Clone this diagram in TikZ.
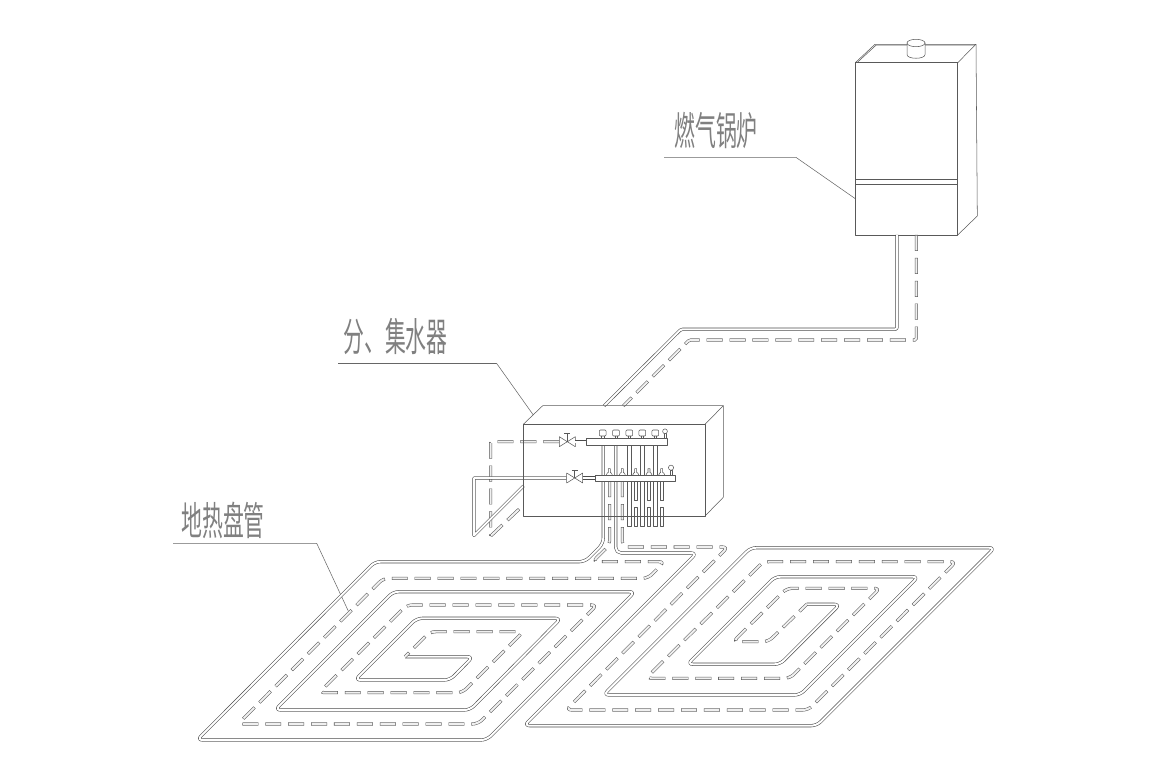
\documentclass[tikz,border=0pt]{standalone}
\usepackage{fontspec}
\newfontfamily\cjk[FakeStretch=0.53]{Noto Sans CJK SC}
\begin{document}
\begin{tikzpicture}[
        x=0.02cm, y=-0.02cm,
        edge/.style={draw=black!65, line width=0.3pt, line join=round},
        face/.style={edge, fill=white},
        leader/.style={edge, draw=black!60},
        pipe/.style={draw=black!70, line width=0.32pt, double=white, double distance=0.04cm, rounded corners=0.11cm, line join=round},
        pipedash/.style={draw=black!65, line width=1.75pt, dash pattern=on 9.07pt off 3.97pt, rounded corners=0.11cm,
            postaction={draw=black!6, line width=1.15pt, dash pattern=on 8.5pt off 4.54pt, dash phase=12.75pt}},
        tag/.style={inner sep=0pt, text=black!50, font=\cjk\fontsize{22.4pt}{24pt}\selectfont}
    ]
        \useasboundingbox (0,0) rectangle (1152,759);

        % labels and leaders
        \node[tag] (boilerlabel) at (716,131) {燃气锅炉};
        \node[tag] (manifoldlabel) at (395.5,337) {分、集水器};
        \node[tag] (coillabel) at (223,520) {地热盘管};
        \coordinate (boilerstart) at (664,157.4);
        \coordinate (boilerbend) at (796,157.4);
        \coordinate (boilertip) at (855.3,198.7);
        \coordinate (manifoldstart) at (338,363.5);
        \coordinate (manifoldbend) at (496.7,363.5);
        \coordinate (manifoldtip) at (533.3,415);
        \coordinate (coilstart) at (173,543.3);
        \coordinate (coilbend) at (316.7,543.3);
        \coordinate (coiltip) at (348.3,611);
        \draw[leader] (boilerstart) -- (boilerbend) -- (boilertip);
        \draw[leader] (manifoldstart) -- (manifoldbend) -- (manifoldtip);
        \draw[leader] (coilstart) -- (coilbend) -- (coiltip);

        % boiler
        \draw[edge] (855.3,62.7) -- (875,44.3) -- (976,44.3) -- (957.7,62.7);
        \draw[edge] (857,62.7) -- (876,45.2) -- (975,45.2);
        \draw[edge] (976,44.3) -- (977.3,216) -- (957.7,235);
        \draw[edge] (855.3,62.7) rectangle (957.7,235);
        \draw[edge] (855.3,62) -- (957.7,62);
        \draw[edge] (855.3,179.3) -- (957.7,179.3);
        \draw[edge] (855.3,184.3) -- (957.7,184.3);
        \draw[face] (907,43) -- (907,54.6) .. controls (907,59.5) and (925,59.5) .. (925,54.6) -- (925,43) -- cycle;
        \draw[face] (916,43) ellipse [x radius=9, y radius=3.7];

        % supply and return to boiler
        \draw[pipe, rounded corners=0.03cm] (897,235) -- (897,329.3) -- (681,329.3) -- (604,406);
        \draw[pipedash, rounded corners=0.03cm] (916.3,235) -- (916.3,340) -- (689.3,340) -- (623.3,406);

        % upper feed with valve, lower feed with valve
        \draw[pipedash, rounded corners=0.03cm] (559.3,441.7) -- (490.7,441.7) -- (490.7,536) -- (524,504.5);
        \draw[pipe, rounded corners=0pt] (566.7,478) -- (474,478) -- (474,535.5) -- (523.5,486);

        % left coil
        \draw[pipe] (603.3,445) -- (603.3,543.4) -- (585,561.7) -- (375,561.7) -- (197,740) -- (486.7,740)
            -- (635,591.7) -- (393.3,591.7) -- (275,710) -- (470,710) -- (561,618.3) -- (416.7,618.3)
            -- (355,680) -- (450,680) -- (473,656.7) -- (405,656.7);
        \draw[pipedash] (609.7,481.3) -- (609.7,545) -- (592.5,561.7) -- (664.5,561.7) -- (648,578.3)
            -- (383.3,578.3) -- (238,724) -- (478,724) -- (597,605) -- (406.7,605) -- (319,692.7)
            -- (462.3,692.7) -- (523.3,631.7) -- (430,631.7) -- (405,656.7);

        % right coil
        \draw[pipe] (615.7,445) -- (615.7,553) -- (696.7,553) -- (524,725.7) -- (816.7,725.7) -- (994.7,547.7)
            -- (750.7,547.7) -- (603.4,695) -- (800,695) -- (918.3,576.7) -- (775,576.7) -- (687.4,664.3)
            -- (780,664.3) -- (840,604.3) -- (806.7,604.3);
        \draw[pipedash] (622.3,481.3) -- (622.3,547) -- (728,547) -- (566,710) -- (808.3,710) -- (956,561.7)
            -- (763.3,561.7) -- (646,678.3) -- (790,678.3) -- (880,588.3) -- (786.7,588.3) -- (733,641.7)
            -- (768.3,641.7) -- (806.7,604.3);

        % manifold outlets ending inside the box
        \foreach \ox in {629.3,642.3,655.3} {
            \draw[face] (\ox-1.6,445) rectangle (\ox+1.6,526);
        }
        \foreach \ox in {635.7,649,661.7} {
            \draw[face] (\ox-1.6,481.3) rectangle (\ox+1.6,500.7);
            \draw[face] (\ox-1.6,507.7) rectangle (\ox+1.6,526.7);
        }

        % wall box
        \draw[edge] (523.3,424.3) rectangle (705,516);
        \draw[edge] (523.3,424.3) -- (542.7,405.7) -- (723.3,405.7) -- (705,424.3);
        \draw[edge] (723.3,405.7) -- (723.3,497.3) -- (705,516);

        % valves
        \foreach \vx/\vy in {567.3/441.7,574.7/478} {
            \draw[face] (\vx-8,\vy-5) -- (\vx+8,\vy+5) -- (\vx+8,\vy-5) -- (\vx-8,\vy+5) -- cycle;
            \draw[edge] (\vx,\vy) -- (\vx,\vy-8);
            \draw[edge] (\vx-3,\vy-8) -- (\vx+3,\vy-8);
        }
        \draw[pipe, rounded corners=0pt] (575.3,441.7) -- (586,441.7);
        \draw[pipe, rounded corners=0pt] (582.7,478) -- (595.3,478);

        % upper manifold
        \foreach \kx in {602.7,616,629.3,642.3,655.3} {
            \draw[face] (\kx-1.2,435) rectangle (\kx+1.2,438.3);
            \draw[face, rounded corners=0.02cm] (\kx-3.4,430) rectangle (\kx+3.4,436);
        }
        \draw[face] (664.2,433) rectangle (665.8,438.3);
        \draw[face] (665,431.3) circle [radius=2.4];
        \draw[face] (586,438.3) rectangle (667.3,445);

        % lower manifold
        \foreach \px in {609.3,622.3,635.7,649,661.7} {
            \draw[face] (\px-3,475) -- (\px-2,473) -- (\px-1,472.5) -- (\px-1,468.7) -- (\px+1,468.7) -- (\px+1,472.5) -- (\px+2,473) -- (\px+3,475);
        }
        \draw[face] (670.2,470) rectangle (671.8,475);
        \draw[face] (671,467.7) circle [radius=2.6];
        \draw[face] (595.3,475) rectangle (675.3,481.3);
    \end{tikzpicture}
\end{document}
